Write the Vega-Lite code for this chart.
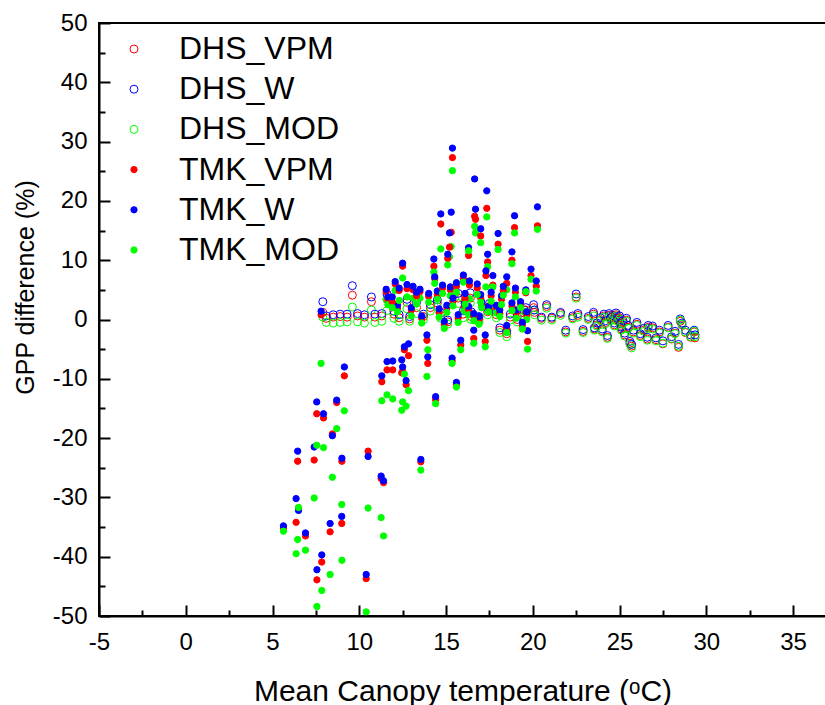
{
"$schema": "https://vega.github.io/schema/vega-lite/v6.json",
"width": 727, "height": 593,
"autosize": {"type": "none"},
"padding": {"left": 99, "top": 23, "right": 0, "bottom": 89},
"background": "white",
"config": {
  "view": {"stroke": "black", "strokeWidth": 2},
  "axis": {"grid": false, "domainColor": "black", "domainWidth": 2, "tickColor": "black", "tickWidth": 2,
    "labelFont": "Liberation Sans", "labelFontSize": 24, "labelColor": "black",
    "titleFont": "Liberation Sans", "titleColor": "black", "titleFontWeight": "normal",
    "labelFlush": false, "labelOverlap": false, "labelBound": false},
  "legend": {"orient": "none", "legendX": 19, "legendY": 10, "labelFont": "Liberation Sans", "labelFontSize": 32,
    "labelColor": "black", "rowPadding": 8.2, "labelOffset": 29, "labelLimit": 400, "symbolStrokeWidth": 1, "padding": 0}
},
"data": {"values": [
{"x":7.9,"DHS_W":3.0,"DHS_VPM":1.2,"DHS_MOD":0.4},
{"x":8.1,"DHS_W":0.6,"DHS_VPM":0.2,"DHS_MOD":-0.5},
{"x":8.5,"DHS_W":0.8,"DHS_VPM":0.4,"DHS_MOD":-0.6},
{"x":8.9,"DHS_W":0.9,"DHS_VPM":0.5,"DHS_MOD":-0.5},
{"x":9.3,"DHS_W":0.9,"DHS_VPM":0.4,"DHS_MOD":-0.4},
{"x":9.6,"DHS_W":5.7,"DHS_VPM":4.1,"DHS_MOD":2.1},
{"x":9.9,"DHS_W":1.0,"DHS_VPM":0.6,"DHS_MOD":-0.4},
{"x":10.3,"DHS_W":0.8,"DHS_VPM":0.4,"DHS_MOD":-0.6},
{"x":10.7,"DHS_W":3.8,"DHS_VPM":3.0,"DHS_MOD":1.6},
{"x":10.9,"DHS_W":0.9,"DHS_VPM":0.4,"DHS_MOD":-0.5},
{"x":11.3,"DHS_W":1.0,"DHS_VPM":0.6,"DHS_MOD":-0.3},
{"x":11.6,"DHS_W":4.3,"DHS_VPM":3.4,"DHS_MOD":1.5},
{"x":12.0,"DHS_W":1.4,"DHS_VPM":0.9,"DHS_MOD":0.2},
{"x":12.3,"DHS_W":0.8,"DHS_VPM":0.3,"DHS_MOD":-0.3},
{"x":12.75,"DHS_W":3.4,"DHS_VPM":2.9,"DHS_MOD":1.8},
{"x":12.9,"DHS_W":0.5,"DHS_VPM":0.1,"DHS_MOD":-0.3},
{"x":13.3,"DHS_W":2.9,"DHS_VPM":2.0,"DHS_MOD":1.0},
{"x":13.7,"DHS_W":0.9,"DHS_VPM":0.5,"DHS_MOD":0.0},
{"x":14.1,"DHS_W":2.5,"DHS_VPM":2.0,"DHS_MOD":1.4},
{"x":14.5,"DHS_W":3.3,"DHS_VPM":2.8,"DHS_MOD":2.1},
{"x":14.7,"DHS_W":1.1,"DHS_VPM":0.7,"DHS_MOD":0.2},
{"x":15.1,"DHS_W":-0.1,"DHS_VPM":-0.4,"DHS_MOD":-0.8},
{"x":15.5,"DHS_W":4.9,"DHS_VPM":4.3,"DHS_MOD":3.6},
{"x":15.7,"DHS_W":4.4,"DHS_VPM":3.6,"DHS_MOD":2.7},
{"x":16.0,"DHS_W":1.5,"DHS_VPM":0.9,"DHS_MOD":0.3},
{"x":16.4,"DHS_W":4.5,"DHS_VPM":3.6,"DHS_MOD":2.8},
{"x":16.45,"DHS_W":1.3,"DHS_VPM":0.5,"DHS_MOD":0.0},
{"x":16.9,"DHS_W":0.5,"DHS_VPM":0.0,"DHS_MOD":-0.4},
{"x":17.4,"DHS_W":1.9,"DHS_VPM":1.3,"DHS_MOD":0.8},
{"x":17.5,"DHS_W":2.7,"DHS_VPM":2.2,"DHS_MOD":1.6},
{"x":17.9,"DHS_W":1.3,"DHS_VPM":0.8,"DHS_MOD":0.3},
{"x":18.1,"DHS_W":-1.4,"DHS_VPM":-1.8,"DHS_MOD":-2.2},
{"x":18.5,"DHS_W":-2.0,"DHS_VPM":-2.4,"DHS_MOD":-2.9},
{"x":18.7,"DHS_W":0.9,"DHS_VPM":0.4,"DHS_MOD":-0.1},
{"x":19.1,"DHS_W":0.5,"DHS_VPM":0.0,"DHS_MOD":-0.4},
{"x":19.5,"DHS_W":1.6,"DHS_VPM":1.1,"DHS_MOD":0.6},
{"x":19.6,"DHS_W":2.0,"DHS_VPM":1.6,"DHS_MOD":1.2},
{"x":20.05,"DHS_W":2.5,"DHS_VPM":2.0,"DHS_MOD":1.6},
{"x":20.1,"DHS_W":1.6,"DHS_VPM":1.2,"DHS_MOD":0.8},
{"x":20.5,"DHS_W":0.4,"DHS_VPM":0.2,"DHS_MOD":-0.1},
{"x":20.8,"DHS_W":2.5,"DHS_VPM":2.2,"DHS_MOD":1.9},
{"x":21.1,"DHS_W":0.4,"DHS_VPM":0.2,"DHS_MOD":-0.1},
{"x":21.6,"DHS_W":1.2,"DHS_VPM":1.0,"DHS_MOD":0.7},
{"x":21.9,"DHS_W":-1.8,"DHS_VPM":-2.1,"DHS_MOD":-2.3},
{"x":22.3,"DHS_W":0.6,"DHS_VPM":0.3,"DHS_MOD":0.1},
{"x":22.5,"DHS_W":4.3,"DHS_VPM":3.8,"DHS_MOD":3.6},
{"x":22.6,"DHS_W":1.0,"DHS_VPM":0.7,"DHS_MOD":0.4},
{"x":22.9,"DHS_W":-1.7,"DHS_VPM":-2.0,"DHS_MOD":-2.2},
{"x":23.2,"DHS_W":0.5,"DHS_VPM":0.2,"DHS_MOD":0.0},
{"x":23.5,"DHS_W":1.2,"DHS_VPM":0.9,"DHS_MOD":0.6},
{"x":23.55,"DHS_W":-1.4,"DHS_VPM":-1.6,"DHS_MOD":-1.8},
{"x":23.7,"DHS_W":-0.6,"DHS_VPM":-0.9,"DHS_MOD":-1.1},
{"x":23.9,"DHS_W":0.3,"DHS_VPM":0.0,"DHS_MOD":-0.2},
{"x":24.0,"DHS_W":-1.6,"DHS_VPM":-1.9,"DHS_MOD":-2.1},
{"x":24.1,"DHS_W":0.9,"DHS_VPM":0.6,"DHS_MOD":0.4},
{"x":24.2,"DHS_W":-0.2,"DHS_VPM":-0.5,"DHS_MOD":-0.7},
{"x":24.3,"DHS_W":-2.7,"DHS_VPM":-3.0,"DHS_MOD":-3.2},
{"x":24.4,"DHS_W":1.0,"DHS_VPM":0.7,"DHS_MOD":0.5},
{"x":24.5,"DHS_W":0.3,"DHS_VPM":0.0,"DHS_MOD":-0.2},
{"x":24.6,"DHS_W":0.7,"DHS_VPM":0.4,"DHS_MOD":0.2},
{"x":24.7,"DHS_W":-0.6,"DHS_VPM":-0.9,"DHS_MOD":-1.1},
{"x":24.75,"DHS_W":0.5,"DHS_VPM":0.2,"DHS_MOD":0.0},
{"x":24.8,"DHS_W":1.1,"DHS_VPM":0.8,"DHS_MOD":0.6},
{"x":24.9,"DHS_W":0.2,"DHS_VPM":-0.1,"DHS_MOD":-0.3},
{"x":25.0,"DHS_W":0.6,"DHS_VPM":0.3,"DHS_MOD":0.1},
{"x":25.05,"DHS_W":-0.7,"DHS_VPM":-1.0,"DHS_MOD":-1.2},
{"x":25.1,"DHS_W":-1.3,"DHS_VPM":-1.6,"DHS_MOD":-1.8},
{"x":25.2,"DHS_W":-0.2,"DHS_VPM":-0.5,"DHS_MOD":-0.7},
{"x":25.3,"DHS_W":-2.3,"DHS_VPM":-2.6,"DHS_MOD":-2.8},
{"x":25.4,"DHS_W":0.2,"DHS_VPM":-0.1,"DHS_MOD":-0.3},
{"x":25.5,"DHS_W":-1.0,"DHS_VPM":-1.3,"DHS_MOD":-1.5},
{"x":25.6,"DHS_W":-3.7,"DHS_VPM":-4.0,"DHS_MOD":-4.2},
{"x":25.7,"DHS_W":-4.2,"DHS_VPM":-4.5,"DHS_MOD":-4.8},
{"x":25.8,"DHS_W":-1.8,"DHS_VPM":-2.1,"DHS_MOD":-2.3},
{"x":26.0,"DHS_W":-0.5,"DHS_VPM":-0.8,"DHS_MOD":-1.0},
{"x":26.2,"DHS_W":-2.4,"DHS_VPM":-2.7,"DHS_MOD":-2.9},
{"x":26.4,"DHS_W":-1.5,"DHS_VPM":-1.8,"DHS_MOD":-2.0},
{"x":26.6,"DHS_W":-3.0,"DHS_VPM":-3.3,"DHS_MOD":-3.5},
{"x":26.65,"DHS_W":-1.0,"DHS_VPM":-1.3,"DHS_MOD":-1.5},
{"x":26.9,"DHS_W":-1.1,"DHS_VPM":-1.4,"DHS_MOD":-1.6},
{"x":27.1,"DHS_W":-3.1,"DHS_VPM":-3.4,"DHS_MOD":-3.6},
{"x":27.3,"DHS_W":-1.8,"DHS_VPM":-2.1,"DHS_MOD":-2.3},
{"x":27.5,"DHS_W":-3.6,"DHS_VPM":-4.1,"DHS_MOD":-4.0},
{"x":27.8,"DHS_W":-1.0,"DHS_VPM":-1.3,"DHS_MOD":-1.4},
{"x":28.0,"DHS_W":-2.9,"DHS_VPM":-3.3,"DHS_MOD":-3.2},
{"x":28.2,"DHS_W":-2.0,"DHS_VPM":-2.3,"DHS_MOD":-2.4},
{"x":28.4,"DHS_W":-4.2,"DHS_VPM":-4.7,"DHS_MOD":-4.5},
{"x":28.5,"DHS_W":0.1,"DHS_VPM":-0.3,"DHS_MOD":-0.1},
{"x":28.6,"DHS_W":-0.6,"DHS_VPM":-0.9,"DHS_MOD":-0.8},
{"x":28.8,"DHS_W":-1.8,"DHS_VPM":-2.2,"DHS_MOD":-2.1},
{"x":29.1,"DHS_W":-2.6,"DHS_VPM":-3.0,"DHS_MOD":-2.9},
{"x":29.3,"DHS_W":-1.8,"DHS_VPM":-2.1,"DHS_MOD":-2.0},
{"x":29.35,"DHS_W":-2.6,"DHS_VPM":-3.1,"DHS_MOD":-2.9},
{"x":5.63,"TMK_W":-34.8,"TMK_VPM":-35.2,"TMK_MOD":-35.7},
{"x":6.45,"TMK_W":-22.2,"TMK_VPM":-23.9,"TMK_MOD":-37.1},
{"x":6.5,"TMK_W":-32.2,"TMK_VPM":-31.8,"TMK_MOD":-31.7},
{"x":6.36,"TMK_W":-30.2,"TMK_VPM":-34.2,"TMK_MOD":-39.5},
{"x":6.9,"TMK_W":-36.0,"TMK_VPM":-36.5,"TMK_MOD":-38.9},
{"x":7.4,"TMK_W":-21.5,"TMK_VPM":-23.7,"TMK_MOD":-30.1},
{"x":7.55,"TMK_W":-13.9,"TMK_VPM":-15.9,"TMK_MOD":-21.2},
{"x":7.56,"TMK_W":-42.2,"TMK_VPM":-43.9,"TMK_MOD":-48.4},
{"x":7.84,"TMK_W":-39.7,"TMK_VPM":-40.9,"TMK_MOD":-45.7},
{"x":7.94,"TMK_W":-15.9,"TMK_VPM":-16.6,"TMK_MOD":-21.6},
{"x":7.8,"TMK_W":1.4,"TMK_VPM":0.8,"TMK_MOD":-7.4},
{"x":8.32,"TMK_W":-34.4,"TMK_VPM":-35.8,"TMK_MOD":-43.0},
{"x":8.45,"TMK_W":-19.6,"TMK_VPM":-19.3,"TMK_MOD":-26.6},
{"x":8.7,"TMK_W":-13.6,"TMK_VPM":-14.0,"TMK_MOD":-18.4},
{"x":8.99,"TMK_W":-33.2,"TMK_VPM":-34.4,"TMK_MOD":-31.2},
{"x":9.0,"TMK_W":-23.4,"TMK_VPM":-23.9,"TMK_MOD":-40.6},
{"x":9.14,"TMK_W":-8.0,"TMK_VPM":-9.5,"TMK_MOD":-15.4},
{"x":10.4,"TMK_W":-43.0,"TMK_VPM":-43.7,"TMK_MOD":-49.3},
{"x":10.51,"TMK_W":-23.1,"TMK_VPM":-22.2,"TMK_MOD":-31.8},
{"x":11.26,"TMK_W":-26.4,"TMK_VPM":-26.8,"TMK_MOD":-33.4},
{"x":11.4,"TMK_W":-27.2,"TMK_VPM":-27.5,"TMK_MOD":-36.5},
{"x":11.3,"TMK_W":-9.5,"TMK_VPM":-10.5,"TMK_MOD":-13.7},
{"x":11.6,"TMK_W":-7.1,"TMK_VPM":-8.5,"TMK_MOD":-12.7},
{"x":11.93,"TMK_W":-7.0,"TMK_VPM":-8.5,"TMK_MOD":-13.4},
{"x":12.45,"TMK_W":-6.8,"TMK_VPM":-9.0,"TMK_MOD":-15.3},
{"x":12.5,"TMK_W":-8.0,"TMK_VPM":-8.7,"TMK_MOD":-13.9},
{"x":12.6,"TMK_W":-4.6,"TMK_VPM":-5.1,"TMK_MOD":-9.2},
{"x":12.7,"TMK_W":-10.3,"TMK_VPM":-11.0,"TMK_MOD":-14.6},
{"x":12.84,"TMK_W":-4.1,"TMK_VPM":-6.1,"TMK_MOD":-12.0},
{"x":13.55,"TMK_W":-23.6,"TMK_VPM":-24.0,"TMK_MOD":-25.4},
{"x":13.9,"TMK_W":-2.6,"TMK_VPM":-3.5,"TMK_MOD":-9.6},
{"x":13.95,"TMK_W":-6.3,"TMK_VPM":-7.4,"TMK_MOD":-5.1},
{"x":14.4,"TMK_W":-13.0,"TMK_VPM":-13.5,"TMK_MOD":-14.2},
{"x":15.6,"TMK_W":-10.6,"TMK_VPM":-11.0,"TMK_MOD":-11.4},
{"x":15.35,"TMK_W":-6.5,"TMK_VPM":-7.0,"TMK_MOD":-7.4},
{"x":15.85,"TMK_W":-3.5,"TMK_VPM":-4.3,"TMK_MOD":-5.1},
{"x":16.6,"TMK_W":-1.8,"TMK_VPM":-3.2,"TMK_MOD":-4.0},
{"x":17.26,"TMK_W":-2.6,"TMK_VPM":-3.7,"TMK_MOD":-4.6},
{"x":19.7,"TMK_W":-1.9,"TMK_VPM":-3.7,"TMK_MOD":-5.0},
{"x":15.37,"TMK_W":28.9,"TMK_VPM":27.3,"TMK_MOD":25.1},
{"x":16.65,"TMK_W":23.7,"TMK_VPM":17.4,"TMK_MOD":15.7},
{"x":16.7,"TMK_W":18.6,"TMK_VPM":16.9,"TMK_MOD":14.6},
{"x":17.35,"TMK_W":21.7,"TMK_VPM":18.75,"TMK_MOD":17.3},
{"x":14.7,"TMK_W":17.8,"TMK_VPM":16.1,"TMK_MOD":11.9},
{"x":15.3,"TMK_W":18.1,"TMK_VPM":14.7,"TMK_MOD":12.3},
{"x":15.2,"TMK_W":14.6,"TMK_VPM":12.2,"TMK_MOD":10.6},
{"x":20.27,"TMK_W":19.0,"TMK_VPM":15.8,"TMK_MOD":15.2},
{"x":18.95,"TMK_W":17.5,"TMK_VPM":15.5,"TMK_MOD":14.6},
{"x":17.0,"TMK_W":15.3,"TMK_VPM":14.1,"TMK_MOD":12.95},
{"x":18.0,"TMK_W":14.5,"TMK_VPM":12.7,"TMK_MOD":11.8},
{"x":18.8,"TMK_W":11.4,"TMK_VPM":10.0,"TMK_MOD":9.4},
{"x":16.3,"TMK_W":12.1,"TMK_VPM":10.8,"TMK_MOD":11.6},
{"x":14.3,"TMK_W":10.2,"TMK_VPM":9.0,"TMK_MOD":8.0},
{"x":14.35,"TMK_W":7.2,"TMK_VPM":6.9,"TMK_MOD":6.1},
{"x":15.1,"TMK_W":11.0,"TMK_VPM":10.3,"TMK_MOD":9.2},
{"x":17.4,"TMK_W":11.0,"TMK_VPM":9.7,"TMK_MOD":8.9},
{"x":19.9,"TMK_W":8.5,"TMK_VPM":7.4,"TMK_MOD":6.8},
{"x":20.2,"TMK_W":6.5,"TMK_VPM":5.6,"TMK_MOD":4.8},
{"x":12.5,"TMK_W":9.5,"TMK_VPM":9.0,"TMK_MOD":7.0},
{"x":11.55,"TMK_W":5.1,"TMK_VPM":4.7,"TMK_MOD":3.4},
{"x":12.07,"TMK_W":6.4,"TMK_VPM":6.0,"TMK_MOD":4.9},
{"x":12.75,"TMK_W":5.9,"TMK_VPM":5.2,"TMK_MOD":3.8},
{"x":13.1,"TMK_W":5.6,"TMK_VPM":5.0,"TMK_MOD":3.6},
{"x":13.5,"TMK_W":5.1,"TMK_VPM":4.7,"TMK_MOD":3.6},
{"x":14.0,"TMK_W":4.4,"TMK_VPM":3.9,"TMK_MOD":2.9},
{"x":15.25,"TMK_W":5.5,"TMK_VPM":5.0,"TMK_MOD":4.0},
{"x":16.0,"TMK_W":7.5,"TMK_VPM":6.9,"TMK_MOD":6.3},
{"x":16.35,"TMK_W":6.5,"TMK_VPM":5.8,"TMK_MOD":3.5},
{"x":17.3,"TMK_W":8.2,"TMK_VPM":7.4,"TMK_MOD":5.5},
{"x":17.7,"TMK_W":7.4,"TMK_VPM":5.8,"TMK_MOD":5.5},
{"x":18.5,"TMK_W":7.2,"TMK_VPM":6.1,"TMK_MOD":5.0},
{"x":19.0,"TMK_W":5.3,"TMK_VPM":4.6,"TMK_MOD":3.8},
{"x":19.6,"TMK_W":5.0,"TMK_VPM":4.5,"TMK_MOD":4.7},
{"x":15.05,"TMK_W":2.4,"TMK_VPM":2.0,"TMK_MOD":1.2},
{"x":16.05,"TMK_W":2.7,"TMK_VPM":2.2,"TMK_MOD":1.5},
{"x":16.3,"TMK_W":2.2,"TMK_VPM":1.7,"TMK_MOD":0.8},
{"x":17.05,"TMK_W":3.0,"TMK_VPM":2.6,"TMK_MOD":2.0},
{"x":17.45,"TMK_W":2.2,"TMK_VPM":1.8,"TMK_MOD":1.3},
{"x":17.9,"TMK_W":2.4,"TMK_VPM":2.0,"TMK_MOD":1.1},
{"x":18.1,"TMK_W":1.6,"TMK_VPM":1.0,"TMK_MOD":0.5},
{"x":19.05,"TMK_W":1.6,"TMK_VPM":1.1,"TMK_MOD":0.2},
{"x":19.65,"TMK_W":1.3,"TMK_VPM":0.8,"TMK_MOD":0.0},
{"x":14.5,"TMK_W":4.8,"TMK_VPM":4.2,"TMK_MOD":3.4},
{"x":13.0,"TMK_W":2.0,"TMK_VPM":1.6,"TMK_MOD":0.6},
{"x":12.2,"TMK_W":2.4,"TMK_VPM":1.9,"TMK_MOD":1.3},
{"x":11.65,"TMK_W":3.8,"TMK_VPM":3.4,"TMK_MOD":2.5},
{"x":11.9,"TMK_W":3.8,"TMK_VPM":3.0,"TMK_MOD":2.0},
{"x":15.7,"TMK_W":0.8,"TMK_VPM":0.3,"TMK_MOD":-0.5},
{"x":16.9,"TMK_W":0.5,"TMK_VPM":0.0,"TMK_MOD":-0.8},
{"x":18.5,"TMK_W":-1.0,"TMK_VPM":-1.6,"TMK_MOD":-2.2},
{"x":17.0,"TMK_W":4.2,"TMK_VPM":3.6,"TMK_MOD":2.9},
{"x":14.9,"TMK_W":-0.3,"TMK_VPM":-0.8,"TMK_MOD":-1.5},
{"x":13.6,"TMK_W":0.6,"TMK_VPM":0.2,"TMK_MOD":-0.6},
{"x":16.1,"TMK_W":4.4,"TMK_VPM":3.5,"TMK_MOD":2.6},
{"x":18.2,"TMK_W":4.0,"TMK_VPM":3.4,"TMK_MOD":2.5},
{"x":19.3,"TMK_W":3.0,"TMK_VPM":2.6,"TMK_MOD":2.0},
{"x":12.3,"TMK_W":5.3,"TMK_VPM":4.9,"TMK_MOD":3.2},
{"x":13.3,"TMK_W":4.6,"TMK_VPM":4.0,"TMK_MOD":2.6},
{"x":14.8,"TMK_W":5.8,"TMK_VPM":5.3,"TMK_MOD":4.4},
{"x":15.6,"TMK_W":6.2,"TMK_VPM":5.6,"TMK_MOD":4.6},
{"x":16.8,"TMK_W":6.0,"TMK_VPM":5.3,"TMK_MOD":4.2},
{"x":17.6,"TMK_W":4.6,"TMK_VPM":4.0,"TMK_MOD":3.1},
{"x":18.3,"TMK_W":5.6,"TMK_VPM":4.9,"TMK_MOD":4.1},
{"x":18.8,"TMK_W":2.8,"TMK_VPM":2.3,"TMK_MOD":1.5},
{"x":15.4,"TMK_W":3.6,"TMK_VPM":3.1,"TMK_MOD":2.3},
{"x":14.6,"TMK_W":1.8,"TMK_VPM":1.2,"TMK_MOD":0.4},
{"x":16.6,"TMK_W":1.0,"TMK_VPM":0.6,"TMK_MOD":-0.2},
{"x":19.4,"TMK_W":-0.5,"TMK_VPM":-1.0,"TMK_MOD":-1.6}
]},
"transform": [
  {"fold": ["DHS_VPM", "DHS_W", "DHS_MOD", "TMK_VPM", "TMK_W", "TMK_MOD"], "as": ["s", "y"]},
  {"filter": "isValid(datum.y)"}
],
"layer": [
  {
    "mark": {"type": "point", "shape": "circle", "strokeWidth": 1, "opacity": 1},
    "encoding": {
      "x": {"field": "x", "type": "quantitative",
        "scale": {"domain": [-5, 36.9], "nice": false, "zero": false},
        "axis": {"orient": "bottom", "values": [-5,0,5,10,15,20,25,30,35],
          "labelExpr": "'' + datum.value",
          "tickSize": -11, "labelPadding": 25,
          "title": "Mean Canopy temperature (ᵒC)", "titleFontSize": 30, "titleY": 84, "titleBaseline": "alphabetic"}},
      "y": {"field": "y", "type": "quantitative",
        "scale": {"domain": [-50, 50], "nice": false, "zero": false},
        "axis": {"orient": "left", "values": [-50,-40,-30,-20,-10,0,10,20,30,40,50],
          "labelExpr": "'' + datum.value",
          "tickSize": -11, "labelPadding": 23,
          "title": "GPP difference (%)", "titleFontSize": 25, "titleX": -66, "titleY": 264, "titleAlign": "center", "titleBaseline": "alphabetic", "titleAngle": -90}},
      "stroke": {"field": "s", "type": "nominal", "title": null,
        "scale": {"domain": ["DHS_VPM", "DHS_W", "DHS_MOD", "TMK_VPM", "TMK_W", "TMK_MOD"],
          "range": ["#ff0000", "#0000ff", "#00ff00", "#ff0000", "#0000ff", "#00ff00"]}},
      "fill": {"field": "s", "type": "nominal", "title": null,
        "scale": {"domain": ["DHS_VPM", "DHS_W", "DHS_MOD", "TMK_VPM", "TMK_W", "TMK_MOD"],
          "range": ["transparent", "transparent", "transparent", "#ff0000", "#0000ff", "#00ff00"]}},
      "size": {"field": "s", "type": "nominal", "title": null,
        "scale": {"type": "ordinal", "domain": ["DHS_VPM", "DHS_W", "DHS_MOD", "TMK_VPM", "TMK_W", "TMK_MOD"],
          "range": [64, 64, 64, 40, 40, 40]}}
    }
  },
  {
    "mark": {"type": "point", "opacity": 0},
    "encoding": {
      "x": {"field": "x", "type": "quantitative",
        "axis": {"orient": "bottom", "values": [-2.5,2.5,7.5,12.5,17.5,22.5,27.5,32.5],
          "tickSize": -6, "labels": false, "domain": false, "title": null}},
      "y": {"field": "y", "type": "quantitative",
        "axis": {"orient": "left", "values": [-45,-35,-25,-15,-5,5,15,25,35,45],
          "tickSize": -6, "labels": false, "domain": false, "title": null}}
    }
  }
],
"resolve": {"axis": {"x": "independent", "y": "independent"}}
}
